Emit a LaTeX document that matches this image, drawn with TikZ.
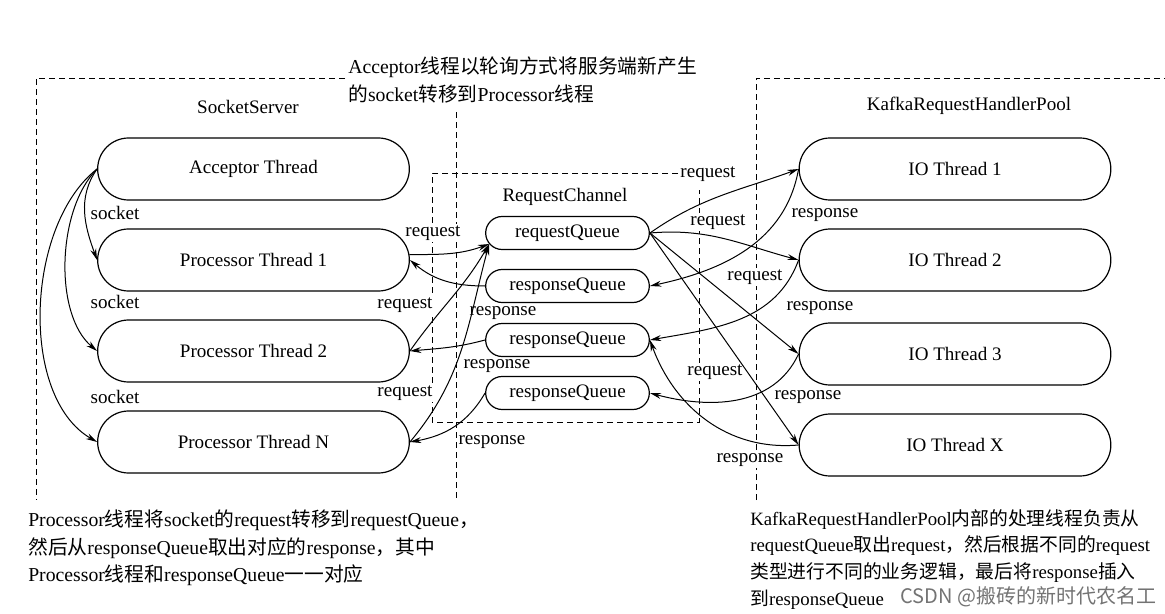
\documentclass[tikz,border=0pt]{standalone}
\usepackage{fontspec}
\setmainfont{Liberation Serif}
\newfontfamily\cjk{Noto Sans CJK SC}
\newcommand\zh[1]{{\cjk #1}}
\usetikzlibrary{shapes.misc,arrows.meta}
\tikzset{
  thread/.style={draw, rounded rectangle, line width=0.9pt, minimum width=237.75pt, minimum height=46.5pt, inner sep=2pt},
  queue/.style={draw, rounded rectangle, line width=0.9pt, minimum width=126.75pt, minimum height=24.75pt, inner sep=2pt},
  frame/.style={dash pattern=on 4.5pt off 3pt, line width=0.6pt},
  flow/.style={-{Stealth[length=8.5pt,width=4.5pt]}, line width=0.75pt},
  lbl/.style={fill=white, inner sep=1pt},
  note/.style={anchor=north west, align=left, inner sep=0pt, font=\fontsize{14.8}{20.4}\selectfont},
  wmark/.style={anchor=west, inner sep=0pt, text=black!55, font=\cjk\fontsize{15}{18}\selectfont}
}
\begin{document}
\begin{tikzpicture}[x=0.75pt, y=0.75pt, font=\fontsize{14.3}{20.3}\selectfont]
\useasboundingbox (0,0) rectangle (1165,-614);
% dashed frames
\draw[frame] (345,-78) -- (36,-78) -- (36,-500);
\draw[frame] (456,-112) -- (456,-500);
\draw[frame] (678,-173) -- (432,-173) -- (432,-422) -- (699,-422) -- (699,-190);
\draw[frame] (756,-500) -- (756,-78) -- (1165,-78);
% titles and notes
\node (ss) at (248,-107) {SocketServer};
\node (rc) at (565,-197) {RequestChannel};
\node (pool) at (969,-106) {KafkaRequestHandlerPool};
\node[note] (top) at (348,-57) {Acceptor\zh{线程以轮询方式将服务端新产生}\\\zh{的}socket\zh{转移到}Processor\zh{线程}};
\node[note] (left) at (28,-510) {Processor\zh{线程将}socket\zh{的}request\zh{转移到}requestQueue\zh{，}\\
  \zh{然后从}responseQueue\zh{取出对应的}response\zh{，其中}\\
  Processor\zh{线程和}responseQueue\zh{一一对应}};
\node[note, font=\fontsize{14.1}{20.1}\selectfont] (right) at (750,-509) {KafkaRequestHandlerPool\zh{内部的处理线程负责从}\\
  requestQueue\zh{取出}request\zh{，然后根据不同的}request\\
  \zh{类型进行不同的业务逻辑，最后将}response\zh{插入}\\
  \zh{到}responseQueue};
\node[wmark] (wm) at (900,-597) {CSDN @搬砖的新时代农名工};
% edge labels
\foreach \y in {213,302,397} \node[lbl] at (115,-\y) {socket};
\node[lbl] at (433,-233) {request};
\node[lbl] at (405,-305) {request};
\node[lbl] at (405,-393) {request};
\node[lbl] at (503,-313) {response};
\node[lbl] at (497,-366) {response};
\node[lbl] at (492,-442) {response};
\node[lbl] at (708,-174) {request};
\node[lbl] at (718,-222) {request};
\node[lbl] at (755,-277) {request};
\node[lbl] at (715,-372) {request};
\node[lbl] at (825,-215) {response};
\node[lbl] at (820,-308) {response};
\node[lbl] at (808,-397) {response};
\node[lbl] at (750,-460) {response};
% threads
\node[thread] (acc) at (253.5,-169) {Acceptor Thread};
\node[thread] (p1) at (253.5,-260) {Processor Thread 1};
\node[thread] (p2) at (253.5,-351) {Processor Thread 2};
\node[thread] (pN) at (253.5,-442) {Processor Thread N};
\node[thread] (io1) at (955,-169) {IO Thread 1};
\node[thread] (io2) at (955,-260) {IO Thread 2};
\node[thread] (io3) at (955,-354) {IO Thread 3};
\node[thread] (iox) at (955,-445) {IO Thread X};
% queues
\node[queue] (rq) at (567.5,-233) {requestQueue};
\node[queue] (sq1) at (567.5,-286) {responseQueue};
\node[queue] (sq2) at (567.5,-340) {responseQueue};
\node[queue] (sq3) at (567.5,-393) {responseQueue};
% socket hand-off
\draw[flow] (acc.west) to[out=235, in=110] (p1.west);
\draw[flow] (acc.west) to[out=225, in=140, looseness=0.8] (p2.west);
\draw[flow] (acc.west) to[out=218, in=150, looseness=0.85] (pN.west);
% processors <-> channel
\draw[flow] (p1.2) to[out=0, in=200] (rq.188);
\draw[flow] (p2.east) to[out=55, in=240] (rq.188);
\draw[flow] (pN.east) to[out=50, in=255] (rq.188);
\draw[flow] (sq1.west) to[out=180, in=-40] (p1.east);
\draw[flow] (sq2.west) to[out=195, in=5] (p2.east);
\draw[flow] (sq3.west) to[out=240, in=10] (pN.east);
% channel <-> io threads
\draw[flow] (rq.east) to[out=35, in=200] (io1.west);
\draw[flow] (rq.east) to[out=5, in=165] (io2.west);
\draw[flow] (rq.east) -- (io3.west);
\draw[flow] (rq.east) -- (iox.west);
\draw[flow] (io1.west) to[out=260, in=12] (sq1.east);
\draw[flow] (io2.west) to[out=250, in=10] (sq2.east);
\draw[flow] (io3.west) to[out=245, in=-15] (sq3.east);
\draw[flow] (iox.west) to[out=185, in=-70] (sq2.east);
\end{tikzpicture}
\end{document}
